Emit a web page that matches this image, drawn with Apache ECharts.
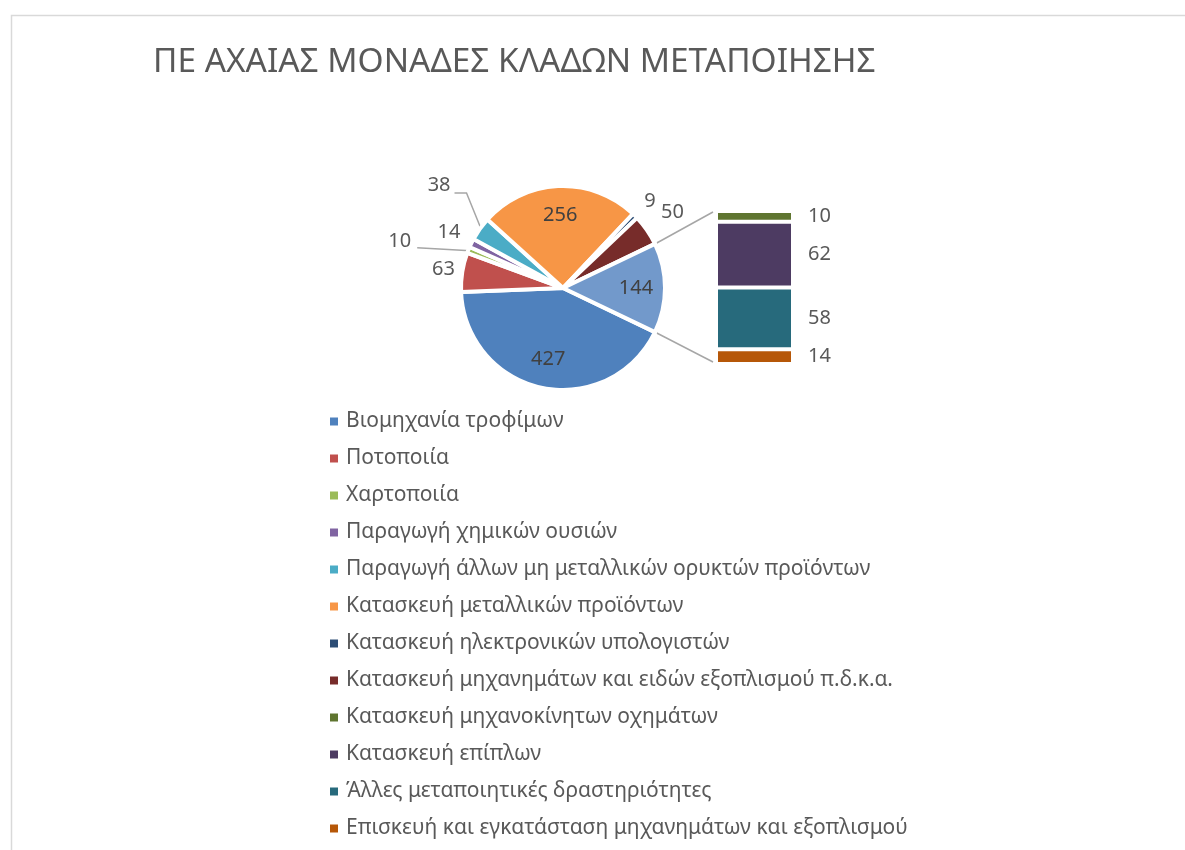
<!DOCTYPE html>
<html><head><meta charset="utf-8">
<script src="https://cdn.jsdelivr.net/npm/echarts@6/dist/echarts.min.js"></script>
<style>html,body{margin:0;padding:0;background:#fff}#c{width:1185px;height:850px}</style>
</head><body><div id="c"></div>
<script>
const titleText = 'ΠΕ ΑΧΑΙΑΣ ΜΟΝΑΔΕΣ ΚΛΑΔΩΝ ΜΕΤΑΠΟΙΗΣΗΣ';
const pieNames = [
  'Βιομηχανία τροφίμων',
  'Ποτοποιία',
  'Χαρτοποιία',
  'Παραγωγή χημικών ουσιών',
  'Παραγωγή άλλων μη μεταλλικών ορυκτών προϊόντων',
  'Κατασκευή μεταλλικών προϊόντων',
  'Κατασκευή ηλεκτρονικών υπολογιστών',
  'Κατασκευή μηχανημάτων και ειδών εξοπλισμού π.δ.κ.α.'
];
const pieValues = [427, 63, 10, 14, 38, 256, 9, 50];
const pieColors = ['#4F81BD', '#C0504D', '#9BBB59', '#8064A2', '#4BACC6', '#F79646', '#2C4D75', '#772C2A'];
const barNames = [
  'Κατασκευή μηχανοκίνητων οχημάτων',
  'Κατασκευή επίπλων',
  'Άλλες μεταποιητικές δραστηριότητες',
  'Επισκευή και εγκατάσταση μηχανημάτων και εξοπλισμού'
];
const barValues = [10, 62, 58, 14];
const barColors = ['#5F7530', '#4D3B62', '#276A7C', '#B65708'];
const otherName = 'Λοιπά';
const otherColor = '#7299CB';

const FONT = 'Noto Sans';
const TXT = '#595959';
const otherValue = barValues.reduce((a, b) => a + b, 0);
const allNames = pieNames.concat([otherName]);
const allValues = pieValues.concat([otherValue]);
const allColors = pieColors.concat([otherColor]);
const total = allValues.reduce((a, b) => a + b, 0);
const otherAngle = otherValue / total * 360;
const startAngle = -otherAngle / 2;
const center = [563, 288];
const R = 102;      // drawn radius (white border eats 2px)
const Rv = 100;     // visible radius

// mid angle of each slice, degrees clockwise from 3 o'clock (screen)
const midAngles = [];
(function () {
  let acc = otherAngle / 2;
  allValues.forEach(v => {
    const span = v / total * 360;
    midAngles.push((acc + span / 2) * Math.PI / 180);
    acc += span;
  });
})();

// outside label placement (style): radial distance, or elbow leader line
const labelPlace = {
  1: {r: 121},
  2: {elbow: [-53, -3], tail: 0, lx: -6, ly: -6},
  3: {r: 127},
  4: {elbow: [-15, -37], tail: -12, lx: -4, ly: -8},
  6: {r: 123},
  7: {r: 133}
};
const insideIdx = [0, 5, 8];

const mainData = allNames.map((n, i) => {
  const s = labelPlace[i];
  return {
    name: n, value: allValues[i], itemStyle: {color: allColors[i]},
    label: {show: !!s},
    labelLine: {show: !!(s && s.elbow)}
  };
});
const overlayData = allNames.map((n, i) => ({
  name: n, value: allValues[i],
  label: {show: insideIdx.indexOf(i) >= 0}
}));

const chart = echarts.init(document.getElementById('c'), null, {renderer: 'canvas'});
const barSeries = barNames.map((n, i) => ({
  name: n, type: 'bar', stack: 'b', barWidth: '100%',
  data: [barValues[i]],
  itemStyle: {color: barColors[i], borderColor: '#fff', borderWidth: 2},
  label: {show: true, position: 'right', distance: 15, color: TXT, fontSize: 20, fontFamily: FONT},
  emphasis: {disabled: true}
})).reverse();

chart.setOption({
  animation: false,
  backgroundColor: '#fff',
  textStyle: {fontFamily: FONT},
  title: {
    text: titleText, left: 153, top: 46, padding: 0,
    textStyle: {fontSize: 33.4, fontWeight: 'normal', color: TXT, fontFamily: FONT}
  },
  legend: {
    orient: 'vertical', left: 330, top: 411, padding: 0,
    itemWidth: 8, itemHeight: 8, itemGap: 16, icon: 'rect',
    itemStyle: {borderWidth: 0},
    data: pieNames.concat(barNames),
    textStyle: {fontSize: 21, color: TXT, fontFamily: FONT, lineHeight: 21, padding: [0, 0, 0, 3]},
    selectedMode: false
  },
  grid: {left: 716, top: 211, width: 77, height: 153},
  xAxis: {type: 'category', data: [''], show: false},
  yAxis: {type: 'value', min: 0, max: otherValue, show: false},
  series: [
    {
      type: 'pie', name: 'main', center: center, radius: R,
      startAngle: startAngle, clockwise: true, avoidLabelOverlap: false,
      itemStyle: {borderColor: '#fff', borderWidth: 4},
      label: {position: 'outside', color: TXT, fontSize: 20, fontFamily: FONT, formatter: '{c}'},
      labelLine: {length: 10, length2: 5, lineStyle: {color: '#A6A6A6', width: 1.5}},
      labelLayout: function (p) {
        const i = p.dataIndex;
        const s = labelPlace[i];
        if (!s) return {};
        const m = midAngles[i];
        if (s.r) {
          return {
            x: center[0] + s.r * Math.cos(m), y: center[1] + s.r * Math.sin(m),
            align: 'center', verticalAlign: 'middle'
          };
        }
        const p0 = [center[0] + Rv * Math.cos(m), center[1] + Rv * Math.sin(m)];
        const p1 = [p0[0] + s.elbow[0], p0[1] + s.elbow[1]];
        const p2 = [p1[0] + s.tail, p1[1]];
        return {
          x: p2[0] + s.lx, y: p2[1] + s.ly, align: 'right', verticalAlign: 'middle',
          labelLinePoints: [p0, p1, p2]
        };
      },
      emphasis: {disabled: true},
      data: mainData
    },
    {
      type: 'pie', name: 'labels', center: center, radius: 140,
      startAngle: startAngle, clockwise: true, silent: true,
      itemStyle: {color: 'rgba(0,0,0,0)', borderWidth: 0},
      label: {position: 'inside', color: '#404040', fontSize: 20, fontFamily: FONT, formatter: '{c}'},
      labelLine: {show: false},
      emphasis: {disabled: true},
      data: overlayData
    }
  ].concat(barSeries)
});

// connector lines between pie "other" slice and bar
const a = otherAngle / 2 * Math.PI / 180;
const Rl = 104;
const gridRect = chart.getModel().getComponent('grid', 0).coordinateSystem.getRect();
const yTop = chart.convertToPixel({yAxisIndex: 0}, otherValue) + 1;
const yBot = chart.convertToPixel({yAxisIndex: 0}, 0) - 2;
const xBar = gridRect.x - 3;
const lineStyle = {stroke: '#A6A6A6', lineWidth: 1.5};
chart.setOption({
  graphic: [
    {type: 'rect', left: 9, top: 13, shape: {width: 1300, height: 1000}, style: {fill: 'none', stroke: '#D9D9D9', lineWidth: 1.5}, silent: true},
    {type: 'line', shape: {x1: center[0] + Rl * Math.cos(a), y1: center[1] - Rl * Math.sin(a), x2: xBar, y2: yTop}, style: lineStyle, silent: true},
    {type: 'line', shape: {x1: center[0] + Rl * Math.cos(a), y1: center[1] + Rl * Math.sin(a), x2: xBar, y2: yBot}, style: lineStyle, silent: true}
  ]
});
</script>
</body></html>
